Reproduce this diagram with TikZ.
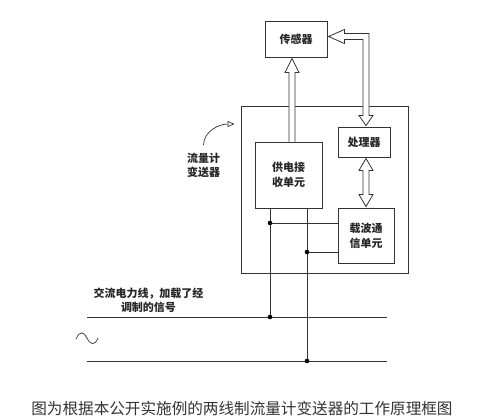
\documentclass[tikz,border=0pt]{standalone}
\usepackage{fontspec}
\newfontfamily\cjk{Noto Sans CJK SC}
\usetikzlibrary{arrows.meta,calc}

\begin{document}
\begin{tikzpicture}[x=1pt,y=-1pt,line width=0.9pt,draw=black!80]
    \tikzstyle{unit}=[draw,line width=0.9pt,font=\cjk\bfseries\fontsize{11}{15}\selectfont,text=black!85,align=center,inner sep=0pt]
    \tikzstyle{hollow}=[draw,fill=white,line width=0.8pt,line join=miter]
    \tikzstyle{annot}=[font=\cjk\bfseries\fontsize{11}{13.5}\selectfont,text=black!85,align=center,inner sep=0pt]
    \tikzstyle{tap}=[fill=black,radius=2.3]

    \useasboundingbox (0,0) rectangle (499,418);

    % blocks
    \node[unit,minimum width=167,minimum height=167] (xmtr) at (324.5,189.5) {};
    \node[unit,minimum width=62,minimum height=36] (sensor) at (296,39) {传感器};
    \node[unit,minimum width=67,minimum height=66] (power) at (288.5,175) {供电接\\收单元};
    \node[unit,minimum width=52,minimum height=30] (proc) at (364,142) {处理器};
    \node[unit,minimum width=56,minimum height=55] (carrier) at (366,235.5) {载波通\\信单元};

    % power line taps
    \coordinate (tapA) at (270,317);
    \coordinate (tapB) at (307,361);
    \coordinate (jA) at (270,223);
    \coordinate (jB) at (307,252);
    \coordinate (L1-1) at (87,317);
    \coordinate (L1-2) at (387,317);
    \coordinate (L2-1) at (87,361);
    \coordinate (L2-2) at (387,361);
    \coordinate (upx) at (292,0);
    \coordinate (rx) at (366,0);

    % hollow arrows
    \draw[hollow] ($(power.north -| upx)+(-3,0)$) -- ($(sensor.south -| upx)+(-3,15)$)
        -- ($(sensor.south -| upx)+(-7,15)$) -- ($(sensor.south -| upx)+(0,1)$)
        -- ($(sensor.south -| upx)+(7,15)$) -- ($(sensor.south -| upx)+(3,15)$)
        -- ($(power.north -| upx)+(3,0)$);
    \draw[hollow] ($(sensor.east)+(1,-2.5)$) -- ($(sensor.east)+(17,-9.5)$)
        -- ($(sensor.east)+(17,-5.5)$) -- ($(sensor.east -| rx)+(3,-5.5)$)
        -- ($(proc.north -| rx)+(3,-11)$) -- ($(proc.north -| rx)+(7,-11)$)
        -- ($(proc.north -| rx)+(0,-1)$) -- ($(proc.north -| rx)+(-7,-11)$)
        -- ($(proc.north -| rx)+(-3,-11)$) -- ($(sensor.east -| rx)+(-3,0.5)$)
        -- ($(sensor.east)+(17,0.5)$) -- ($(sensor.east)+(17,4.5)$) -- cycle;
    \draw[hollow] ($(proc.south -| rx)+(0,1)$) -- ($(proc.south -| rx)+(7,13)$)
        -- ($(proc.south -| rx)+(3,13)$) -- ($(carrier.north -| rx)+(3,-13)$)
        -- ($(carrier.north -| rx)+(7,-13)$) -- ($(carrier.north -| rx)+(0,-1)$)
        -- ($(carrier.north -| rx)+(-7,-13)$) -- ($(carrier.north -| rx)+(-3,-13)$)
        -- ($(proc.south -| rx)+(-3,13)$) -- ($(proc.south -| rx)+(-7,13)$) -- cycle;

    % wiring
    \draw (power.south -| tapA) -- (tapA);
    \draw (power.south -| tapB) -- (tapB);
    \draw (jA) -- (carrier.west |- jA);
    \draw (jB) -- (carrier.west |- jB);
    \fill[tap] (jA) circle;
    \fill[tap] (jB) circle;

    \draw (L1-1) -- (L1-2);
    \draw (L2-1) -- (L2-2);
    \fill[tap] (tapA) circle;
    \fill[tap] (tapB) circle;

    % ac source
    \draw[line width=0.7pt] (76,339) .. controls (80,330) and (84,332) .. (87,338)
        .. controls (90,345) and (95,346) .. (98,338);

    % Annotate
    \node[annot] (meter) at (203.5,165.5) {流量计\\变送器};
    \draw[line width=0.7pt,-{Triangle[open,length=7pt,width=6pt]}] ($(meter.north)+(0,-8)$)
        to[out=88,in=180] ($(xmtr.west)+(-6,-65.5)$);
    \node[annot] (acline) at (148.5,300.5) {交流电力线，加载了经\\调制的信号};

    \node[font=\cjk\fontsize{15.6}{18}\selectfont,text=black!80,inner sep=0pt] (cap) at (242,409)
        {图为根据本公开实施例的两线制流量计变送器的工作原理框图};
\end{tikzpicture}
\end{document}
